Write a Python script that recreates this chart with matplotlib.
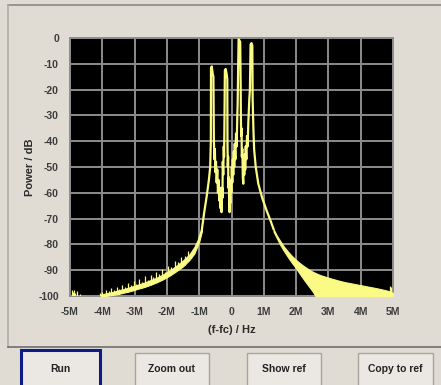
import matplotlib
matplotlib.use('Agg')
import numpy as np
import matplotlib.pyplot as plt
from matplotlib.patches import Rectangle

plt.rcParams['axes.unicode_minus'] = False

# frequency offset in MHz, power in dB
core_f = [-1.00, -0.92, -0.85, -0.77, -0.70, -0.66, -0.64, -0.635, -0.61, -0.58,
          -0.56, -0.545, -0.53, -0.515, -0.50, -0.48, -0.46, -0.44, -0.42, -0.40,
          -0.38, -0.36, -0.34, -0.32, -0.31, -0.29, -0.28, -0.27, -0.255, -0.24,
          -0.23, -0.22, -0.205, -0.18, -0.15, -0.13, -0.125, -0.115, -0.105, -0.095,
          -0.085, -0.07, -0.06, -0.05, -0.035, -0.02, -0.005, 0.01, 0.025, 0.04,
          0.055, 0.07, 0.085, 0.10, 0.12, 0.14, 0.16, 0.18, 0.19, 0.21,
          0.22, 0.25, 0.27, 0.285, 0.29, 0.30, 0.31, 0.32, 0.335, 0.35,
          0.365, 0.38, 0.395, 0.41, 0.425, 0.44, 0.46, 0.48, 0.50, 0.52,
          0.55, 0.57, 0.59, 0.62, 0.645, 0.655, 0.68, 0.70, 0.75, 0.83,
          0.95, 1.09, 1.20, 1.30]
core_p = [-78, -74.5, -68, -61.5, -55, -50, -40, -11.7, -11, -14,
          -15, -40, -47, -43, -52, -48, -56, -51, -60, -55,
          -63, -58, -66, -61, -67.5, -58, -62, -48, -53, -42,
          -46, -35, -12.5, -12, -14, -16, -40, -50, -46, -58,
          -54, -65, -67.5, -60, -64, -55, -60, -50, -56, -47,
          -53, -44, -50, -41, -47, -37, -42, -30, -26, -8,
          -0.5, -1, -1.5, -20, -30, -38, -35, -46, -43, -54,
          -56.5, -48, -53, -45, -51, -42, -47, -38, -42, -33,
          -24, -20, -2.5, -2, -3, -24, -36, -43, -50, -56.5,
          -62, -67, -70.5, -74]

left_f = [-4.05, -3.9, -3.7, -3.5, -3.3, -3.1, -2.9, -2.7, -2.5, -2.3,
          -2.1, -1.9, -1.7, -1.5, -1.3, -1.15, -1.0, -0.92]
left_lo = [-100, -100, -99.6, -99.2, -98.6, -98, -97.2, -96.5, -95.6, -94.6,
           -93.4, -92, -90.3, -88.5, -86, -83.5, -79, -75]
left_hi = [-99.5, -99, -98.5, -97.8, -97.2, -96.4, -95.6, -94.8, -93.8, -92.8,
           -91.5, -90, -88.2, -86.2, -83.8, -81, -77, -74]

spike_f = [-4.95, -4.92, -4.88, -4.84, -4.78, -4.70, -4.08, -4.02, -3.96, -3.88,
           -3.80, -3.72, -3.64, -3.55, -3.47, -3.38, -3.30, -3.20, -3.12, -3.03,
           -2.95, -2.86, -2.78, -2.68, -2.60, -2.50, -2.42, -2.33, -2.24, -2.15,
           -2.06, -1.96, -1.86, -1.76, -1.66, -1.55, -1.45, -1.35, 4.90, 4.95]
spike_top = [-97.6, -98.5, -97.8, -98.8, -98.2, -99.2, -99, -98.6, -99.2, -97.6,
             -98.2, -97, -97.8, -96.4, -97.2, -95.6, -96.6, -95, -95.8, -94.2,
             -95.2, -93.4, -94.6, -92.4, -93.8, -91.8, -92.8, -90.8, -91.6, -89.6,
             -90.6, -88.4, -88.8, -86.6, -87, -84.8, -84.6, -82.4, -96, -96.5]

right_f = [1.30, 1.40, 1.50, 1.62, 1.75, 1.88, 2.00, 2.12, 2.25, 2.38, 2.50, 2.60,
           2.75, 3.00, 3.25, 3.50, 3.75, 4.00, 4.25, 4.50, 4.75, 4.90, 5.00]
right_hi = [-74, -76.5, -78.5, -80.8, -82.8, -84.6, -86, -87.3, -88.5, -89.6, -90.5, -91.1,
            -91.9, -92.9, -93.8, -94.6, -95.2, -95.8, -96.4, -97, -97.7, -98.2, -98.8]
right_lo = [-75, -77.5, -80, -82.5, -85, -87.3, -89.3, -91.5, -93.8, -96, -98, -100,
            -100, -100, -100, -100, -100, -100, -100, -100, -100, -100, -100]

x_ticks = [-5, -4, -3, -2, -1, 0, 1, 2, 3, 4, 5]
x_labels = ['-5M', '-4M', '-3M', '-2M', '-1M', '0', '1M', '2M', '3M', '4M', '5M']
y_ticks = [0, -10, -20, -30, -40, -50, -60, -70, -80, -90, -100]
buttons = ['Run', 'Zoom out', 'Show ref', 'Copy to ref']

W, H = 441, 385
bg = '#e0dcd4'
trace = '#fafa84'
font = 'Liberation Sans'

fig = plt.figure(figsize=(W / 100, H / 100), dpi=100, facecolor=bg)


def fx(px):
    return px / W


def fy(py):
    return 1 - py / H


ax = fig.add_axes([fx(70), fy(296), fx(393) - fx(70), fy(38) - fy(296)])
ax.set_facecolor('black')
ax.set_xlim(-5, 5)
ax.set_ylim(-100, 0)
ax.set_xticks(x_ticks)
ax.set_xticklabels(x_labels)
ax.set_yticks(y_ticks)
ax.grid(True, color='#8c8c8c', linewidth=1.4)
ax.set_axisbelow(True)
for s in ax.spines.values():
    s.set_color('#8c8c8c')
    s.set_linewidth(1.4)
ax.tick_params(length=0, labelsize=7.5, labelcolor='#3c3c3c', pad=8)
for lab in ax.get_xticklabels() + ax.get_yticklabels():
    lab.set_fontfamily(font)
    lab.set_fontweight('bold')

# spikes start on the lower edge of the noise band
spike_base = np.interp(spike_f, left_f, left_lo, left=-100, right=-100)
ax.fill_between(left_f, left_lo, left_hi, color=trace, linewidth=0.8, zorder=3)
ax.vlines(spike_f, spike_base, spike_top, color=trace, linewidth=0.9, zorder=3)
ax.fill_between(right_f, right_lo, right_hi, color=trace, linewidth=0.8, zorder=3)
ax.plot(core_f, core_p, color=trace, linewidth=1.6, zorder=4)

ax.set_xlabel('(f-fc) / Hz', fontsize=8, fontweight='bold', family=font,
              color='#2a2a2a', labelpad=6)
ax.set_ylabel('Power / dB', fontsize=8, fontweight='bold', family=font,
              color='#2a2a2a', labelpad=2)

# panel frame
fig.add_artist(plt.Line2D([fx(8), 1], [fy(5), fy(5)], color='#8a8a8a', lw=1.2))
fig.add_artist(plt.Line2D([fx(8), fx(8)], [fy(5), fy(347)], color='#b0aca6', lw=1.2))
fig.add_artist(plt.Line2D([fx(8), 1], [fy(347), fy(347)], color='#6e6e6e', lw=1.2))

# buttons
btn_x = [(21, 100), (135, 209), (247, 321), (358, 433)]
btn_top = [350, 353, 353, 353]
for i, name in enumerate(buttons):
    x0, x1 = btn_x[i]
    top = btn_top[i]
    if i == 0:
        ec, lw = '#0c1a8a', 2.2
    else:
        ec, lw = '#a8a49e', 1.0
    fig.add_artist(Rectangle((fx(x0), fy(H + 5)), fx(x1) - fx(x0), fy(top) - fy(H + 5),
                             transform=fig.transFigure, facecolor='#ebe8e3',
                             edgecolor=ec, linewidth=lw))
    fig.text(fx((x0 + x1) / 2), fy(369), name, ha='center', va='center',
             fontsize=7.5, fontweight='bold', family=font, color='#222222')

fig.savefig('out.png', dpi=100, facecolor=bg)
